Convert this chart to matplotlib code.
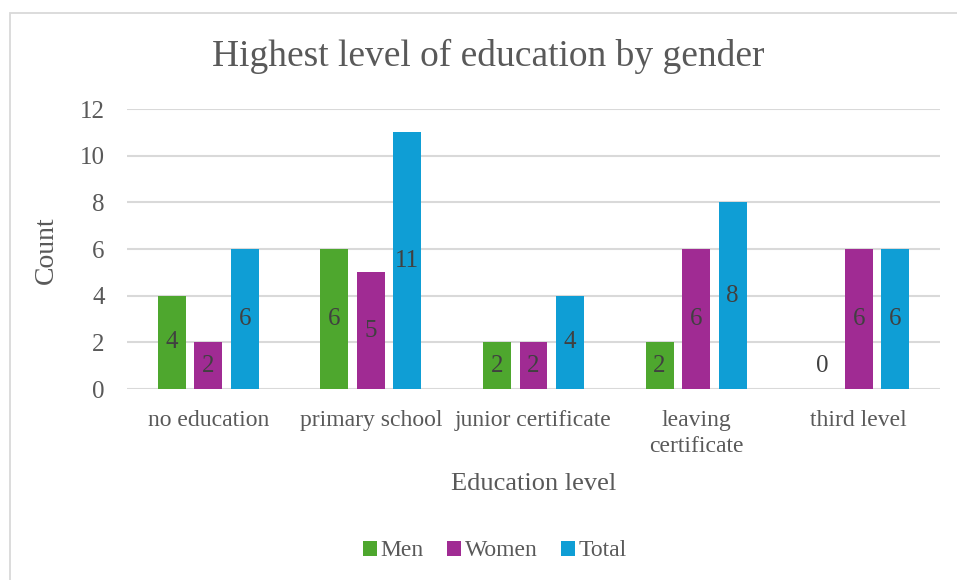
import matplotlib
matplotlib.use("Agg")
import matplotlib.pyplot as plt
from matplotlib.patches import Rectangle
import numpy as np

categories = ["no education", "primary school", "junior certificate",
              "leaving\ncertificate", "third level"]
men = [4, 6, 2, 2, 0]
women = [2, 5, 2, 6, 6]
total = [6, 11, 4, 8, 6]
series = [("Men", men, "#4EA72E"), ("Women", women, "#A02B93"), ("Total", total, "#0F9ED5")]

TXT, LBL, GRID = "#595959", "#404040", "#D9D9D9"
W, H = 957, 580
plt.rcParams["font.family"] = ["Liberation Serif", "DejaVu Serif"]

fig = plt.figure(figsize=(W / 100, H / 100), dpi=100)
fig.patch.set_facecolor("white")
fig.patches.append(Rectangle((10 / W, -0.05), 1.0, 1 - 13 / H + 0.05, transform=fig.transFigure,
                             facecolor="none", edgecolor=GRID, linewidth=1.3))

ax = fig.add_axes([127 / W, 1 - 389 / H, 813 / W, 280 / H])
x = np.arange(len(categories)) + 0.5
bw, step = 0.172, 0.2245
for k, (name, vals, col) in enumerate(series):
    pos = x + (k - 1) * step
    ax.bar(pos, vals, width=bw, color=col, label=name, zorder=2)
    for p, v in zip(pos, vals):
        yv = v / 2 if v > 0 else 1.0
        ax.text(p, yv, str(v), ha="center", va="center", fontsize=18, color=LBL, zorder=3)

ax.set_xlim(0, len(categories))
ax.set_ylim(0, 12)
ax.set_yticks(range(0, 13, 2))
ax.grid(axis="y", color=GRID, linewidth=1.5, zorder=0)
ax.set_axisbelow(True)
for s in ax.spines.values():
    s.set_visible(False)
ax.tick_params(axis="y", length=0, labelsize=18, labelcolor=TXT, pad=16)
ax.set_xticks(x)
ax.set_xticklabels(categories, fontsize=17, color=TXT, linespacing=1.3, va="top")
ax.tick_params(axis="x", length=0, pad=15)

ax.set_ylabel("Count", fontsize=20, color=TXT)
ax.yaxis.set_label_coords(-0.0836, 0.496)
ax.set_xlabel("Education level", fontsize=19, color=TXT, va="center")
ax.xaxis.set_label_coords(0.5, -0.34)
fig.text(488 / W, 1 - 56 / H, "Highest level of education by gender", fontsize=27,
         color=TXT, ha="center", va="center")

leg = fig.legend(loc="center", bbox_to_anchor=(495 / W, 1 - 551 / H), ncol=3, frameon=False,
                 fontsize=17, handlelength=0.6, handleheight=0.6, handletextpad=0.15,
                 columnspacing=1.0)
for t in leg.get_texts():
    t.set_color(TXT)

fig.savefig("out.png", dpi=100, facecolor="white")
